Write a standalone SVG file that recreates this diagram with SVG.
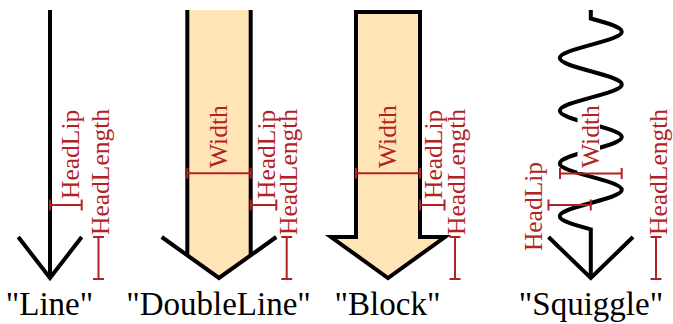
<svg xmlns="http://www.w3.org/2000/svg" width="673" height="324" viewBox="0 0 673 324">
<style>
.ink{fill:none;stroke:#000;stroke-width:4;stroke-linejoin:miter;stroke-linecap:butt}
.body{fill:#FFE4B5;stroke:none}
.blk{fill:#FFE4B5;stroke:#000;stroke-width:4;stroke-linejoin:miter}
.dim{fill:none;stroke:#B22222;stroke-width:2}
.dl{font-family:"Liberation Serif","Times New Roman",serif;font-size:25.5px;fill:#B22222}
.cap{font-family:"Liberation Serif","Times New Roman",serif;font-size:33px;fill:#000;text-anchor:middle}
</style>
<rect width="673" height="324" fill="#fff"/>

<g id="arrow-line">
  <path class="ink" d="M50,10 V278"/>
  <path class="ink" d="M18.3,237 L50,278 L81.7,237"/>
  <path class="dim" d="M50,205 H81.7 M50,199.5 V210.5 M81.7,199.5 V210.5"/>
  <text class="dl" transform="translate(78.5,199) rotate(-90)">HeadLip</text>
  <path class="dim" d="M98.5,237 V279 M93,237 H104 M93,279 H104"/>
  <text class="dl" transform="translate(108.5,235) rotate(-90)">HeadLength</text>
  <text class="cap" x="49.5" y="314.5">"Line"</text>
</g>

<g id="arrow-doubleline">
  <path class="body" d="M187.3,10 H250.7 V255.5 L219,278 L187.3,255.5 Z"/>
  <path class="ink" d="M187.3,10 V255.5 M250.7,10 V255.5"/>
  <path class="ink" d="M161.7,237 L219,278 L276.3,237"/>
  <path class="dim" d="M187.3,173.3 H250.7 M187.3,167.8 V178.8 M250.7,167.8 V178.8"/>
  <text class="dl" transform="translate(226.5,168) rotate(-90)">Width</text>
  <path class="dim" d="M250.7,205 H276.3 M250.7,199.5 V210.5 M276.3,199.5 V210.5"/>
  <text class="dl" transform="translate(274.5,199) rotate(-90)">HeadLip</text>
  <path class="dim" d="M286.7,237 V279 M281.2,237 H292.2 M281.2,279 H292.2"/>
  <text class="dl" transform="translate(297,235) rotate(-90)">HeadLength</text>
  <text class="cap" x="218.5" y="314.5">"DoubleLine"</text>
</g>

<g id="arrow-block">
  <path class="blk" d="M356,12 H420 V237 H445 L388,278 L331,237 H356 Z"/>
  <path class="dim" d="M356,173.3 H420 M356,167.8 V178.8 M420,167.8 V178.8"/>
  <text class="dl" transform="translate(395.5,168) rotate(-90)">Width</text>
  <path class="dim" d="M420,205 H444.5 M420,199.5 V210.5 M444.5,199.5 V210.5"/>
  <text class="dl" transform="translate(441.5,199) rotate(-90)">HeadLip</text>
  <path class="dim" d="M455,237 V279 M449.5,237 H460.5 M449.5,279 H460.5"/>
  <text class="dl" transform="translate(465,235) rotate(-90)">HeadLength</text>
  <text class="cap" x="387.5" y="314.5">"Block"</text>
</g>

<g id="arrow-squiggle">
  <path class="ink" d="M590.8,10 V18.5
    c15.9,4.3 31,8.41 31,13.18 c0,4.77 -15.1,8.87 -31,13.18 c-15.9,4.3 -31,8.41 -31,13.18 c0,4.77 15.1,8.87 31,13.18
    c15.9,4.3 31,8.41 31,13.18 c0,4.77 -15.1,8.87 -31,13.18 c-15.9,4.3 -31,8.41 -31,13.18 c0,4.77 15.1,8.87 31,13.18
    c15.9,4.3 31,8.41 31,13.18 c0,4.77 -15.1,8.87 -31,13.18 c-15.9,4.3 -31,8.41 -31,13.18 c0,4.77 15.1,8.87 31,13.18
    c15.9,4.3 31,8.41 31,13.18 c0,4.77 -15.1,8.87 -31,13.18 c-15.9,4.3 -31,8.41 -31,13.18 c0,4.77 15.1,8.87 31,13.18
    V278"/>
  <path class="ink" d="M548.5,237 L590.8,278 L633,237"/>
  <rect x="577.5" y="104" width="22.5" height="68" fill="#fff"/>
  <text class="dl" transform="translate(598.5,168) rotate(-90)">Width</text>
  <path class="dim" d="M560,173.5 H621.7 M560,168 V179 M621.7,168 V179"/>
  <path class="dim" d="M548.5,205 H590.8 M548.5,199.5 V210.5 M590.8,199.5 V210.5"/>
  <text class="dl" text-anchor="middle" transform="translate(541.5,206.5) rotate(-90)">HeadLip</text>
  <path class="dim" d="M656,237 V279 M650.5,237 H661.5 M650.5,279 H661.5"/>
  <text class="dl" transform="translate(666.5,235) rotate(-90)">HeadLength</text>
  <text class="cap" x="591" y="314.5">"Squiggle"</text>
</g>
</svg>
